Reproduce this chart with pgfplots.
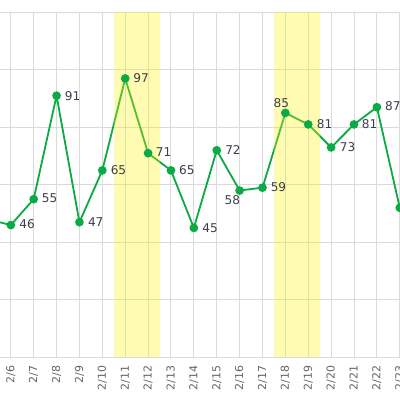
\documentclass[border=0pt]{standalone}
\usepackage{fontspec}
\setmainfont{DejaVu Sans}
\usepackage{pgfplots}
\pgfplotsset{compat=1.18}
\usepackage{pgfplotstable}

\definecolor{lineg}{RGB}{10,170,68}
\definecolor{gridc}{RGB}{218,218,218}
\definecolor{labc}{RGB}{60,60,78}
\definecolor{tickc}{RGB}{100,100,100}

\pgfplotstableread{
x y
5 48
6 46
7 55
8 91
9 47
10 65
11 97
12 71
13 65
14 45
15 72
16 58
17 59
18 85
19 81
20 73
21 81
22 87
23 52
}\series

\pgfplotstableread{
x y lab dx dy
6 46 46 8.3 1.4
7 55 55 8.0 1.0
8 91 91 8.0 0
9 47 47 8.3 0
10 65 65 8.2 0
11 97 97 8.0 0
12 71 71 7.6 0.7
13 65 65 8.0 0.6
14 45 45 8.3 0
15 72 72 8.3 0.6
17 59 59 8.0 1.0
19 81 81 8.4 0
20 73 73 8.4 0
21 81 81 7.6 0
22 87 87 8.0 0.6
}\labelsW

\pgfplotstableread{
x y lab
16 58 58
}\labelsB

\pgfplotstableread{
x y lab
18 85 85
}\labelsA

\pgfplotsset{lab/.style={draw=none, mark=none, point meta=explicit symbolic,
  nodes near coords,
  every node near coord/.append style={text=labc, font=\fontsize{8.6}{9}\selectfont, inner sep=0pt}}}

\begin{document}
\begin{tikzpicture}
\useasboundingbox (0,0) rectangle (10cm,10cm);
\clip (0,0) rectangle (10cm,10cm);
\begin{axis}[
  at={(0,1.0675cm)}, anchor=south west,
  scale only axis, width=10cm, height=8.625cm,
  xmin=5.528, xmax=23.010, ymin=0, ymax=120,
  clip=false,
  axis line style={draw=none},
  major tick length=0pt,
  xtick={5,...,23},
  xticklabels={2/5,2/6,2/7,2/8,2/9,2/10,2/11,2/12,2/13,2/14,2/15,2/16,2/17,2/18,2/19,2/20,2/21,2/22,2/23},
  ytick={0,20,...,120}, yticklabels={},
  grid=major, grid style={gridc, line width=0.025cm},
  xticklabel style={rotate=90, anchor=east, inner sep=0pt, font=\fontsize{7.8}{8}\selectfont, text=tickc},
  xticklabel shift=0.2cm,
]
\addplot[lineg, line width=0.045cm, mark=*, mark size=0.085cm, mark options={fill=lineg, draw=lineg}] table[x=x,y=y]{\series};
\addplot[lab,
  visualization depends on={\thisrow{dx} \as \dx},
  visualization depends on={\thisrow{dy} \as \dy},
  every node near coord/.append style={anchor=west, xshift=\dx*0.025cm, yshift=\dy*0.025cm}]
  table[x=x,y=y,meta=lab]{\labelsW};
\addplot[lab, every node near coord/.append style={anchor=north east, xshift=0.7*0.025cm, yshift=-4.4*0.025cm}]
  table[x=x,y=y,meta=lab]{\labelsB};
\addplot[lab, every node near coord/.append style={anchor=south, xshift=-4*0.025cm, yshift=5*0.025cm}]
  table[x=x,y=y,meta=lab]{\labelsA};
\fill[yellow, opacity=0.3] (axis cs:10.5,0) rectangle (axis cs:12.5,120);
\fill[yellow, opacity=0.3] (axis cs:17.5,0) rectangle (axis cs:19.5,120);
\end{axis}
\end{tikzpicture}
\end{document}
